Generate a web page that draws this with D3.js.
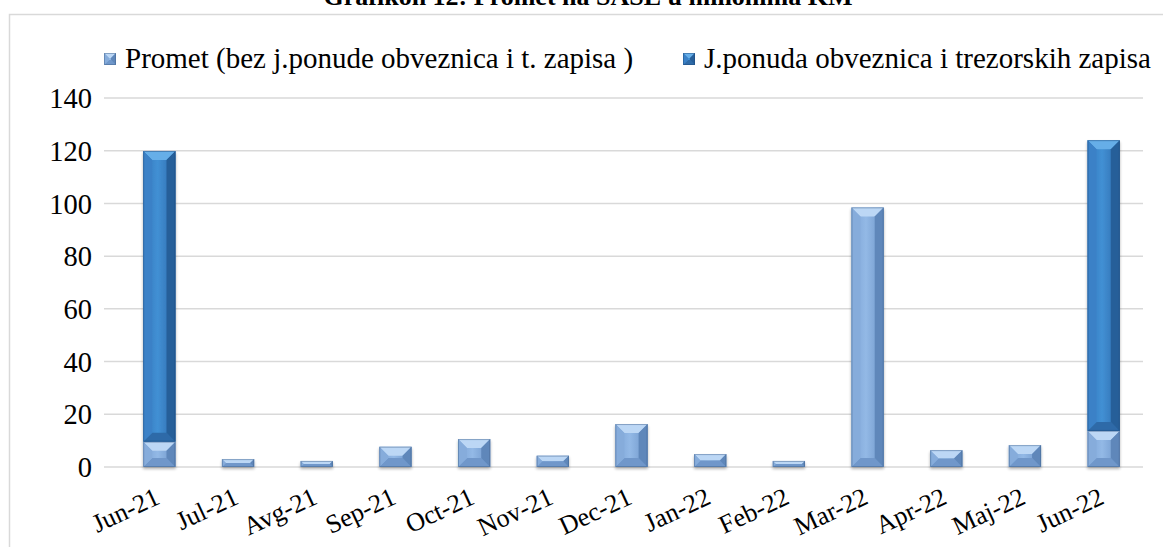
<!DOCTYPE html>
<html>
<head>
<meta charset="utf-8">
<script src="https://cdn.jsdelivr.net/npm/d3@7"></script>
<style>
  html, body { margin: 0; padding: 0; background: #fff; }
  svg text { font-family: "Times New Roman", "Liberation Serif", serif; fill: #000; }
</style>
</head>
<body>
<div id="viz"></div>
<script>
const title = 'Grafikon 12: Promet na SASE u milionima KM';
const months = ['Jun-21', 'Jul-21', 'Avg-21', 'Sep-21', 'Oct-21', 'Nov-21', 'Dec-21',
  'Jan-22', 'Feb-22', 'Mar-22', 'Apr-22', 'Maj-22', 'Jun-22'];
const promet = [9.6, 3.0, 2.3, 7.7, 10.6, 4.3, 16.3, 4.9, 2.3, 98.5, 6.4, 8.3, 13.7];
const ponuda = [110.3, 0, 0, 0, 0, 0, 0, 0, 0, 0, 0, 0, 110.3];
const seriesNames = ['Promet (bez j.ponude obveznica i t. zapisa )', 'J.ponuda obveznica i trezorskih zapisa'];
const yTicks = [0, 20, 40, 60, 80, 100, 120, 140];

const W = 1163, H = 547;
const plot = { left: 104, right: 1143, top: 98, bottom: 467 };
const serif = '"Times New Roman", "Liberation Serif", serif';

const pal = [
  { faceL: '#7ca3d5', faceM: '#93b9e6', faceR: '#6c94c8', top: '#bcd7f5', left: '#86acdb', right: '#5f87ba', bottom: '#6f97ca', edge: '#3f5f8a' },
  { faceL: '#3278bd', faceM: '#4290d4', faceR: '#2c6aab', top: '#66aee8', left: '#3a81c7', right: '#265e99', bottom: '#2f6ba8', edge: '#1f4a7a' }
];

const svg = d3.select('#viz').append('svg')
  .attr('width', W).attr('height', H);

const defs = svg.append('defs');
pal.forEach((p, i) => {
  const g = defs.append('linearGradient').attr('id', 'face' + i)
    .attr('x1', 0).attr('x2', 1).attr('y1', 0).attr('y2', 0);
  g.append('stop').attr('offset', '0%').attr('stop-color', p.faceL);
  g.append('stop').attr('offset', '45%').attr('stop-color', p.faceM);
  g.append('stop').attr('offset', '100%').attr('stop-color', p.faceR);
});
const shadow = defs.append('filter').attr('id', 'shadow')
  .attr('x', '-20%').attr('y', '-20%').attr('width', '140%').attr('height', '140%');
shadow.append('feGaussianBlur').attr('in', 'SourceAlpha').attr('stdDeviation', 1.5);
shadow.append('feOffset').attr('dx', 0).attr('dy', 2).attr('result', 'b');
shadow.append('feComponentTransfer').append('feFuncA').attr('type', 'linear').attr('slope', 0.3);
const merge = shadow.append('feMerge');
merge.append('feMergeNode');
merge.append('feMergeNode').attr('in', 'SourceGraphic');

// frame
svg.append('rect')
  .attr('x', 9.5).attr('y', 14.5).attr('width', 1180).attr('height', 600)
  .attr('fill', 'none').attr('stroke', '#d9d9d9').attr('stroke-width', 1.5);

svg.append('text')
  .attr('x', 588).attr('y', 5)
  .attr('text-anchor', 'middle')
  .style('font-size', '26px').style('font-weight', 'bold')
  .text(title);

const x = d3.scaleBand().domain(months)
  .range([120, plot.right]).paddingInner(0.59).paddingOuter(0.295);
const y = d3.scaleLinear().domain([0, 140]).range([plot.bottom, plot.top]);

// gridlines
svg.append('g').selectAll('line').data(yTicks).join('line')
  .attr('x1', plot.left).attr('x2', plot.right)
  .attr('y1', d => y(d)).attr('y2', d => y(d))
  .attr('stroke', '#d9d9d9').attr('stroke-width', 1.5);

// y axis labels
svg.append('g')
  .attr('transform', `translate(${plot.left - 12},0)`)
  .call(d3.axisLeft(y).tickValues(yTicks).tickSize(0).tickPadding(0))
  .call(g => g.select('.domain').remove())
  .call(g => g.selectAll('text')
    .attr('dy', '0.34em')
    .style('font-size', '28.5px')
    .style('font-family', serif));

// x axis labels (end of text under the category centre)
svg.append('g')
  .attr('transform', `translate(0,${plot.bottom})`)
  .call(d3.axisBottom(x).tickSize(0).tickPadding(0))
  .call(g => g.select('.domain').remove())
  .call(g => g.selectAll('text')
    .attr('text-anchor', 'end')
    .attr('y', 0)
    .attr('dy', 0)
    .attr('transform', 'translate(2,36) rotate(-25)')
    .style('font-size', '26px')
    .style('font-family', serif));

function bevelBar(g, bx, by, bw, bh, i, maxB = 7) {
  if (bh <= 0) return;
  const p = pal[i];
  const b = Math.min(maxB, bh / 2, bw / 2);
  const bar = g.append('g');
  bar.append('rect').attr('x', bx).attr('y', by).attr('width', bw).attr('height', bh)
    .attr('fill', `url(#face${i})`);
  const poly = (pts, fill) => bar.append('polygon')
    .attr('points', pts.map(d => d.join(',')).join(' ')).attr('fill', fill);
  poly([[bx, by], [bx + bw, by], [bx + bw - b, by + b], [bx + b, by + b]], p.top);
  poly([[bx, by + bh], [bx + bw, by + bh], [bx + bw - b, by + bh - b], [bx + b, by + bh - b]], p.bottom);
  poly([[bx, by], [bx + b, by + b], [bx + b, by + bh - b], [bx, by + bh]], p.left);
  poly([[bx + bw, by], [bx + bw - b, by + b], [bx + bw - b, by + bh - b], [bx + bw, by + bh]], p.right);
  bar.append('rect').attr('x', bx + 0.5).attr('y', by + 0.5).attr('width', bw - 1).attr('height', bh - 1)
    .attr('fill', 'none').attr('stroke', p.edge).attr('stroke-opacity', 0.45).attr('stroke-width', 1);
}

const bars = svg.append('g').attr('filter', 'url(#shadow)');
months.forEach((m, k) => {
  const bx = x(m), bw = x.bandwidth();
  bevelBar(bars, bx, y(promet[k]), bw, y(0) - y(promet[k]), 0, 9);
  if (ponuda[k] > 0) {
    const top = promet[k] + ponuda[k];
    bevelBar(bars, bx, y(top), bw, y(promet[k]) - y(top), 1, 9);
  }
});

// legend
const legendX = [104, 683];
seriesNames.forEach((name, i) => {
  const lg = svg.append('g').attr('transform', `translate(${legendX[i]},53)`);
  bevelBar(lg, 0, 0, 12, 12, i, 5);
  lg.append('text').attr('x', 21).attr('y', 15)
    .style('font-size', '29px').text(name);
});
</script>
</body>
</html>
